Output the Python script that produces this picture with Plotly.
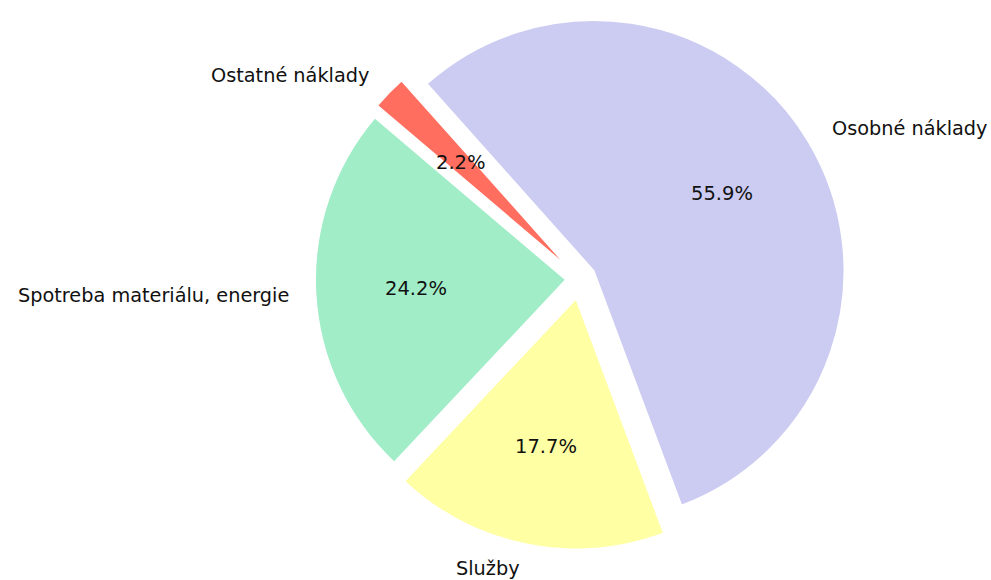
import numpy as np
import plotly.graph_objects as go

labels = ["Osobné náklady", "Ostatné náklady", "Spotreba materiálu, energie", "Služby"]
values = [55.9, 2.2, 24.2, 17.7]
colors = ["#ccccf2", "#ff6e5f", "#a0edc8", "#ffffa3"]
pulls = [0.064, 0.065, 0.057, 0.08]

W, H = 991, 580
cx_s, cy_s = 580, 279   # pie centre on screen (px)
r_target = 250.5
start_math = -69.5      # math angle (deg) where first slice starts, counterclockwise

vals = np.array(values)
frac = vals / vals.sum()
ends = start_math + np.cumsum(frac) * 360
mids = ends - frac * 180

box = r_target * (2 + 2 * max(pulls))
half = box / 2
dom_x = [(cx_s - half - 30) / W, (cx_s + half + 30) / W]
dom_y = [max(0, (H - cy_s - half) / H), min(1, (H - cy_s + half) / H)]

fig = go.Figure(go.Pie(
    labels=labels, values=values, sort=False, direction="counterclockwise",
    rotation=90 - ends[0], pull=pulls,
    marker=dict(colors=colors, line=dict(width=1.5, color="white")),
    textinfo="none", hoverinfo="label+percent", showlegend=False,
    domain=dict(x=dom_x, y=dom_y),
))

def to_paper(sx, sy):
    return sx / W, (H - sy) / H

ann = []
for lab, v, m, p in zip(labels, frac, mids, pulls):
    t = np.deg2rad(m)
    d_pct = (0.6 + p) * r_target
    x, y = to_paper(cx_s + d_pct * np.cos(t), cy_s - d_pct * np.sin(t))
    ann.append(dict(x=x, y=y, xref="paper", yref="paper", text=f"{v*100:.1f}%",
                    showarrow=False, xanchor="center", yanchor="middle",
                    font=dict(size=19.5, color="#111111")))
    d_lab = (1.1 + p) * r_target
    x, y = to_paper(cx_s + d_lab * np.cos(t), cy_s - d_lab * np.sin(t))
    ann.append(dict(x=x, y=y, xref="paper", yref="paper", text=lab,
                    showarrow=False, xanchor="left" if np.cos(t) > 0 else "right",
                    yanchor="middle", font=dict(size=19.3, color="#111111")))

fig.update_layout(
    width=W, height=H, margin=dict(l=0, r=0, t=0, b=0),
    paper_bgcolor="white", plot_bgcolor="white",
    font=dict(family="DejaVu Sans"), annotations=ann,
)
fig.write_html("out.html", config={"displayModeBar": False},
               post_script="document.body.style.margin='0';document.body.style.overflow='hidden';")
